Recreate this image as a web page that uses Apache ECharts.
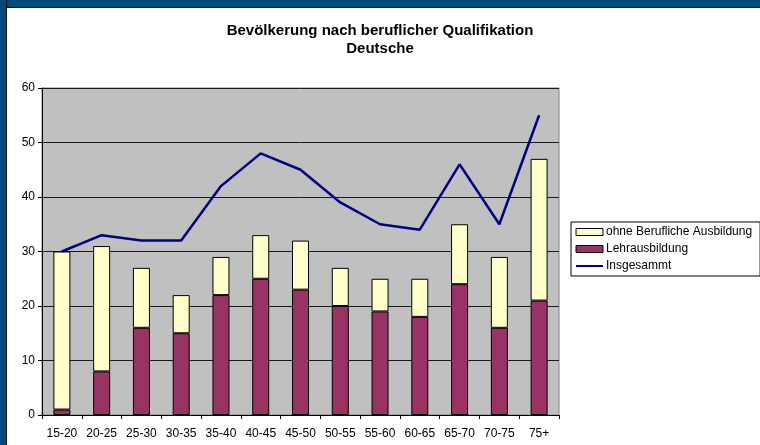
<!DOCTYPE html>
<html>
<head>
<meta charset="utf-8">
<script src="https://cdn.jsdelivr.net/npm/echarts@6/dist/echarts.min.js"></script>
<style>
  html, body { margin: 0; padding: 0; background: #fff; }
  .wrap { position: relative; width: 760px; height: 445px; overflow: hidden; }
  #chart { position: absolute; left: 0; top: 0; width: 760px; height: 445px; }
  .frame-top { position: absolute; left: 0; top: 0; width: 760px; height: 7px; background: #03497c; border-bottom: 1px solid #111; }
  .frame-left { position: absolute; left: 0; top: 0; width: 6px; height: 445px; background: #03497c; border-right: 1px solid #111; }
</style>
</head>
<body>
<div class="wrap">
  <div id="chart"></div>
  <div class="frame-top"></div>
  <div class="frame-left"></div>
</div>
<script>
// age groups
const categories = ['15-20', '20-25', '25-30', '30-35', '35-40', '40-45', '45-50', '50-55', '55-60', '60-65', '65-70', '70-75', '75+']
// stacked bars: Lehrausbildung at the bottom, ohne Ausbildung on top
const lehrausbildung = [1, 8, 16, 15, 22, 25, 23, 20, 19, 18, 24, 16, 21]
const ohneAusbildung = [29, 23, 11, 7, 7, 8, 9, 7, 6, 7, 11, 13, 26]
const insgesamt = [30, 33, 32, 32, 42, 48, 45, 39, 35, 34, 46, 35, 55]

const font = 'Arial, "Liberation Sans", sans-serif'

const chart = echarts.init(document.getElementById('chart'))

chart.setOption({
  animation: false,
  backgroundColor: '#fff',
  textStyle: { fontFamily: font },
  title: {
    text: 'Bevölkerung nach beruflicher Qualifikation\nDeutsche',
    left: 'center',
    top: 22,
    padding: [0, 0, 0, 20],
    textStyle: { fontSize: 15, fontWeight: 'bold', color: '#000', lineHeight: 18, fontFamily: font }
  },
  legend: {
    orient: 'vertical',
    left: 571,
    top: 222,
    padding: [4, 8, 4, 4],
    itemGap: 5,
    itemWidth: 27,
    itemHeight: 7,
    borderColor: '#000',
    borderWidth: 1,
    borderRadius: 0,
    textStyle: { fontSize: 12, color: '#000', fontFamily: font, padding: [0, 0, 0, -2] },
    data: [
      { name: 'ohne Berufliche Ausbildung', icon: 'rect', itemStyle: { borderWidth: 1, borderColor: '#000' } },
      { name: 'Lehrausbildung', icon: 'rect', itemStyle: { borderWidth: 1, borderColor: '#000' } },
      { name: 'Insgesammt', itemStyle: { opacity: 0 } }
    ]
  },
  grid: {
    left: 42,
    top: 88,
    right: 201,
    bottom: 30,
    show: true,
    backgroundColor: '#c0c0c0',
    borderColor: '#808080',
    borderWidth: 1
  },
  xAxis: {
    type: 'category',
    data: categories,
    boundaryGap: true,
    axisLine: { lineStyle: { color: '#000', width: 1 } },
    axisTick: { show: true, length: 4, lineStyle: { color: '#000' } },
    axisLabel: { fontSize: 12, color: '#000', margin: 13, interval: 0 }
  },
  yAxis: {
    type: 'value',
    min: 0,
    max: 60,
    interval: 10,
    axisLine: { show: true, lineStyle: { color: '#000', width: 1 } },
    axisTick: { show: true, length: 4, lineStyle: { color: '#000' } },
    axisLabel: { fontSize: 12, color: '#000', margin: 7 },
    splitLine: { show: true, lineStyle: { color: '#1a1a1a', width: 1 } }
  },
  series: [
    {
      name: 'Lehrausbildung',
      type: 'bar',
      stack: 'total',
      barWidth: 17,
      data: lehrausbildung,
      itemStyle: { color: '#993366', borderColor: '#000', borderWidth: 1 }
    },
    {
      name: 'ohne Berufliche Ausbildung',
      type: 'bar',
      stack: 'total',
      barWidth: 17,
      data: ohneAusbildung,
      itemStyle: { color: '#ffffcc', borderColor: '#000', borderWidth: 1 }
    },
    {
      name: 'Insgesammt',
      type: 'line',
      data: insgesamt,
      symbol: 'none',
      z: 5,
      lineStyle: { color: '#000080', width: 2.5 },
      itemStyle: { color: '#000080' }
    }
  ]
})
</script>
</body>
</html>
